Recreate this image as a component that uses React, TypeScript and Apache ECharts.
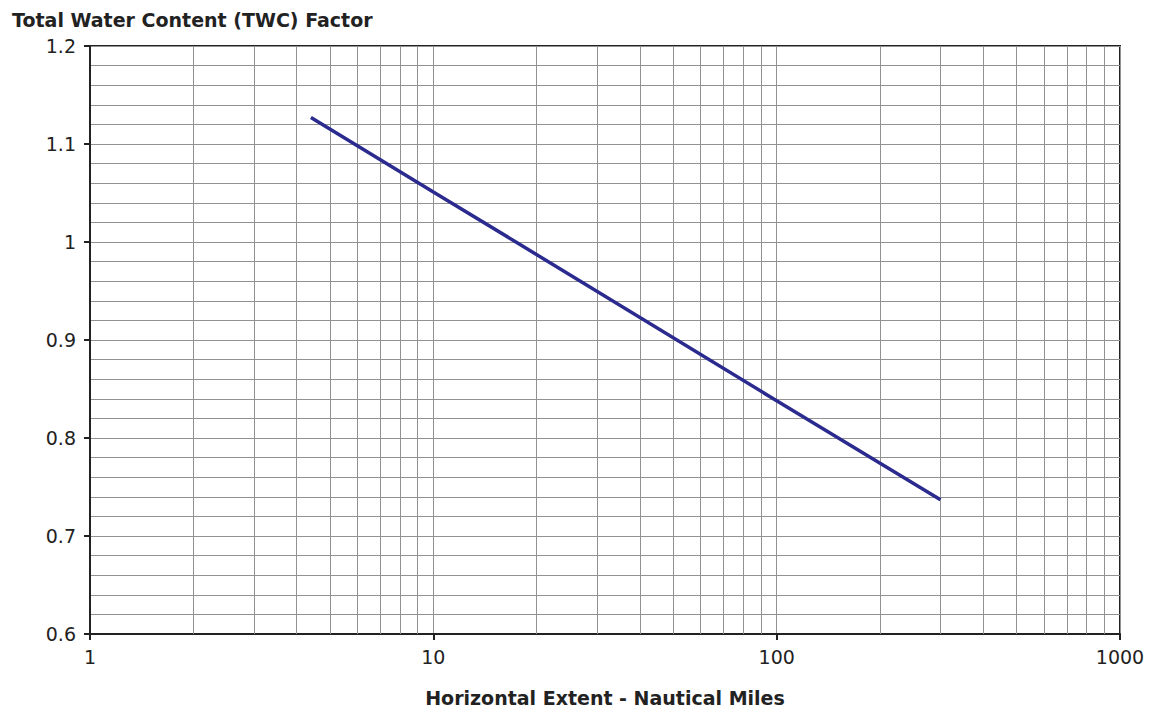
import React, { useEffect, useRef } from "react";
import * as echarts from "echarts";

const titleText = "Total Water Content (TWC) Factor";
const xAxisName = "Horizontal Extent - Nautical Miles";
const extentNm = [4.4, 10, 17.4, 100, 300];
const twcFactor = [1.127, 1.051, 1.0, 0.838, 0.737];
const minorXTicks = [2, 3, 4, 5, 6, 7, 8, 9, 20, 30, 40, 50, 60, 70, 80, 90, 200, 300, 400, 500, 600, 700, 800, 900];

const FONT = "'DejaVu Sans', Verdana, sans-serif";

export default function App() {
  const ref = useRef<HTMLDivElement>(null);
  useEffect(() => {
    if (!ref.current) return;
    const chart = echarts.init(ref.current, undefined, { renderer: "svg" });
    chart.setOption({
      animation: false,
      backgroundColor: "#ffffff",
      title: {
        text: titleText,
        left: 7,
        top: 5,
        textStyle: { fontFamily: FONT, fontSize: 19, fontWeight: "bold", color: "#222" },
      },
      grid: {
        left: 90,
        right: 29,
        top: 46,
        bottom: 75,
        show: true,
        borderColor: "#222",
        borderWidth: 2,
        backgroundColor: "transparent",
      },
      xAxis: {
        type: "log",
        logBase: 10,
        min: 1,
        max: 1000,
        name: xAxisName,
        nameLocation: "middle",
        nameGap: 54,
        nameTextStyle: { fontFamily: FONT, fontSize: 19, fontWeight: "bold", color: "#222" },
        axisLine: { show: true, lineStyle: { color: "#222", width: 2 } },
        axisTick: { show: true, length: 6, lineStyle: { color: "#222", width: 2 } },
        axisLabel: {
          fontFamily: FONT,
          fontSize: 19,
          color: "#222",
          margin: 13,
          formatter: (v: number) => String(Math.round(v)),
        },
        splitLine: { show: true, lineStyle: { color: "#929292", width: 1 } },
      },
      yAxis: {
        type: "value",
        min: 0.6,
        max: 1.2,
        interval: 0.1,
        axisLine: { show: true, lineStyle: { color: "#222", width: 2 } },
        axisTick: { show: true, length: 6, lineStyle: { color: "#222", width: 2 } },
        axisLabel: { fontFamily: FONT, fontSize: 19, color: "#222", margin: 14 },
        splitLine: { show: true, lineStyle: { color: "#929292", width: 1 } },
        minorTick: { show: false, splitNumber: 5 },
        minorSplitLine: { show: true, lineStyle: { color: "#929292", width: 1 } },
      },
      series: [
        {
          type: "line",
          z: 1,
          data: [],
          silent: true,
          markLine: {
            silent: true,
            symbol: "none",
            label: { show: false },
            lineStyle: { color: "#929292", width: 1, type: "solid" },
            data: minorXTicks.map((v) => ({ xAxis: v })),
          },
        },
        {
          type: "line",
          z: 5,
          data: extentNm.map((x, i) => [x, twcFactor[i]]),
          showSymbol: false,
          symbol: "none",
          lineStyle: { color: "#2b2b8f", width: 3.5 },
        },
      ],
    });
    return () => chart.dispose();
  }, []);
  return (
    <div
      ref={ref}
      style={{ position: "fixed", left: 0, top: 0, width: 1149, height: 712 }}
    />
  );
}
